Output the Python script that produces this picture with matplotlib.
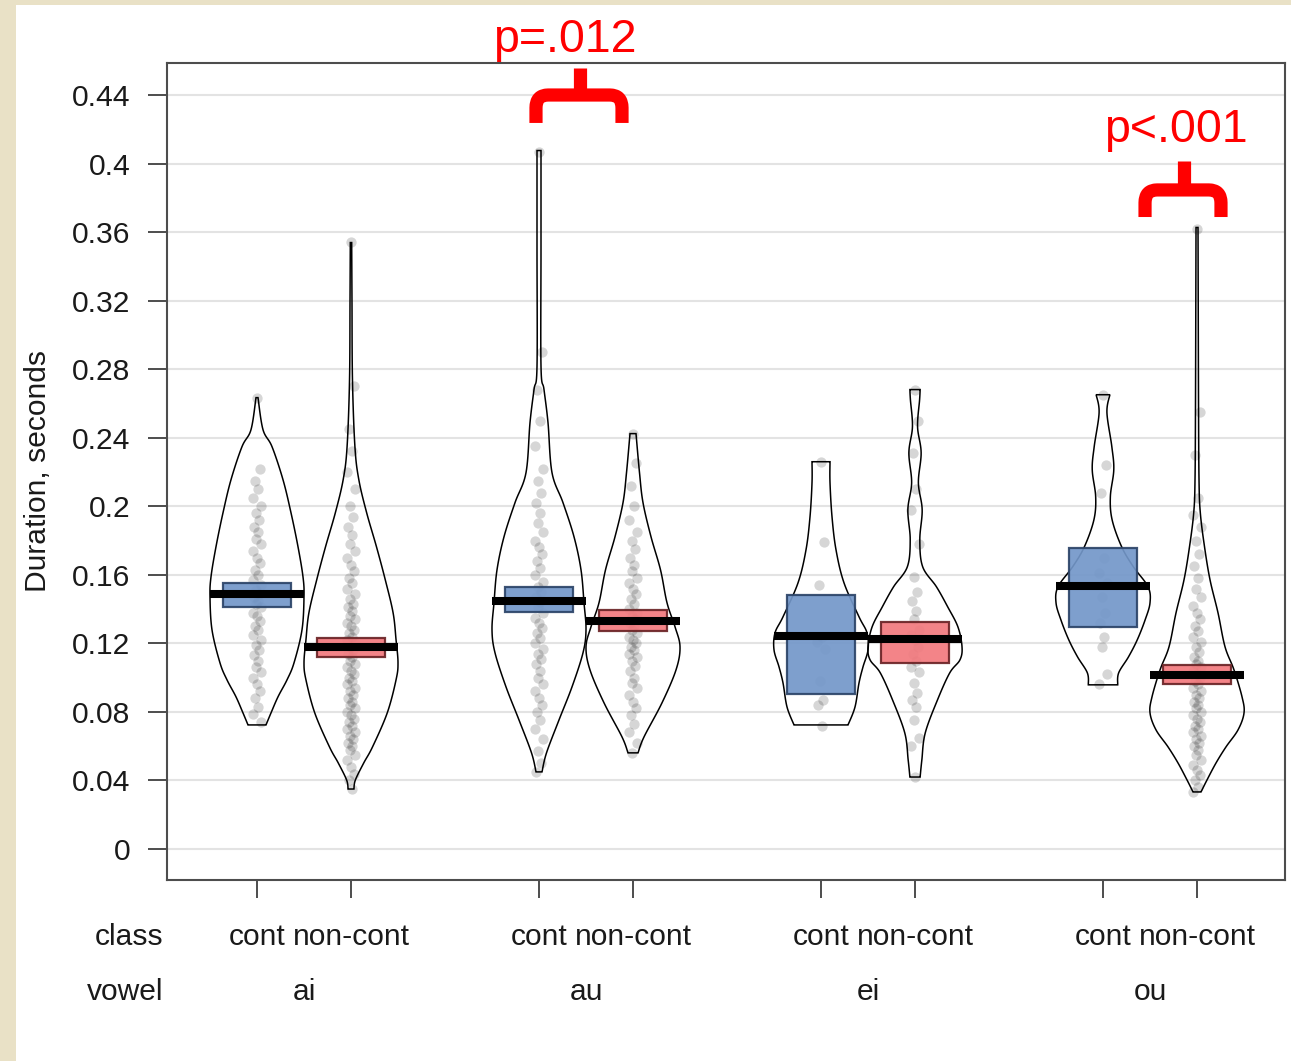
import numpy as np
import matplotlib
matplotlib.use("Agg")
import matplotlib.pyplot as plt
from matplotlib.patches import Rectangle, PathPatch
from matplotlib.path import Path
from matplotlib.transforms import blended_transform_factory

plt.rcParams['font.family'] = ['Liberation Sans', 'DejaVu Sans']

# ---------------- data ----------------
vowels = ['ai', 'au', 'ei', 'ou']
classes = ['cont', 'non-cont']
positions = [1, 2, 4, 5, 7, 8, 10, 11]
yticks = [0, 0.04, 0.08, 0.12, 0.16, 0.2, 0.24, 0.28, 0.32, 0.36, 0.4, 0.44]
ytick_labels = ['0', '0.04', '0.08', '0.12', '0.16', '0.2', '0.24', '0.28',
                '0.32', '0.36', '0.4', '0.44']

means = [0.1489, 0.1180, 0.1448, 0.1331, 0.1244, 0.1226, 0.1536, 0.1016]
hdi_lo = [0.1413, 0.1121, 0.1384, 0.1273, 0.0905, 0.1086, 0.1296, 0.0963]
hdi_hi = [0.1553, 0.1232, 0.1530, 0.1396, 0.1483, 0.1326, 0.1758, 0.1074]

# violin outlines: y values and relative density (top -> bottom)
ai_cont_vy = [0.2634, 0.2447, 0.2348, 0.2155, 0.1962, 0.1764, 0.1588, 0.1472, 0.1279, 0.1086, 0.0987, 0.0888, 0.0794, 0.0724]
ai_cont_vd = [1, 6, 15, 26, 34, 41, 46, 47, 45, 37, 30, 21, 14, 9]
ai_non_vy = [0.3539, 0.3206, 0.2739, 0.2348, 0.2155, 0.1962, 0.1764, 0.1571, 0.1378, 0.1221, 0.1086, 0.0987, 0.0794, 0.0596, 0.0502, 0.0403, 0.0350]
ai_non_vd = [0.7, 1, 1.5, 4, 8, 16, 26, 35, 43, 46, 48, 46, 37, 22, 13, 4.5, 3]
au_cont_vy = [0.4076, 0.3498, 0.2815, 0.2681, 0.2488, 0.2196, 0.2021, 0.1822, 0.1629, 0.1437, 0.1279, 0.1145, 0.0946, 0.0753, 0.0561, 0.0450]
au_cont_vd = [2, 2, 2, 5, 9, 13, 24, 35, 42, 45, 47, 44, 33, 20, 7.5, 3]
au_non_vy = [0.2424, 0.2196, 0.2021, 0.1822, 0.1629, 0.1437, 0.1297, 0.1180, 0.1045, 0.0853, 0.0654, 0.0561]
au_non_vd = [3, 6.5, 10, 18, 27.5, 34, 42, 47, 43, 29, 11, 5]
ei_cont_vy = [0.2260, 0.2137, 0.1939, 0.1746, 0.1553, 0.1355, 0.1261, 0.1162, 0.1063, 0.0969, 0.0829, 0.0724]
ei_cont_vd = [9, 9, 11, 15, 23, 38, 46, 47, 42, 38, 34, 27]
ei_non_vy = [0.2681, 0.2622, 0.2464, 0.2313, 0.2137, 0.1980, 0.1805, 0.1647, 0.1530, 0.1413, 0.1296, 0.1180, 0.1104, 0.1028, 0.0870, 0.0677, 0.0520, 0.0420]
ei_non_vd = [5, 4.5, 2.5, 6, 3.3, 7, 4.7, 7.5, 21, 32, 42, 46, 44, 34, 22, 10, 6.7, 5]
ou_cont_vy = [0.2651, 0.2546, 0.2348, 0.2213, 0.2056, 0.1921, 0.1764, 0.1647, 0.1530, 0.1437, 0.1337, 0.1221, 0.1121, 0.1028, 0.0958]
ou_cont_vd = [7, 4, 9, 11, 7.5, 9.3, 19, 31, 46, 48, 43, 35, 26, 16, 15]
ou_non_vy = [0.3627, 0.2622, 0.2155, 0.1962, 0.1764, 0.1571, 0.1378, 0.1180, 0.1045, 0.0888, 0.0794, 0.0695, 0.0596, 0.0502, 0.0403, 0.0333]
ou_non_vd = [1, 1.5, 2, 3.3, 7.5, 13, 21, 28, 37, 45, 47, 41, 29, 19, 10, 4]

ai_cont_pts = [0.263, 0.222, 0.215, 0.21, 0.205, 0.2, 0.196, 0.192, 0.188, 0.185, 0.181, 0.178, 0.174, 0.17,
               0.167, 0.163, 0.16, 0.157, 0.154, 0.151, 0.149, 0.147, 0.145, 0.143, 0.141, 0.138, 0.136,
               0.133, 0.13, 0.128, 0.125, 0.122, 0.119, 0.116, 0.113, 0.11, 0.106, 0.103, 0.1, 0.096,
               0.092, 0.088, 0.083, 0.079, 0.074]
ai_non_pts = [0.354, 0.27, 0.245, 0.232, 0.22, 0.21, 0.2, 0.194, 0.188, 0.183, 0.178, 0.174, 0.17, 0.166,
              0.162, 0.158, 0.155, 0.152, 0.149, 0.146, 0.143, 0.141, 0.139, 0.136, 0.134, 0.132, 0.13,
              0.128, 0.126, 0.124, 0.122, 0.12, 0.118, 0.116, 0.114, 0.112, 0.11, 0.108, 0.106, 0.104,
              0.102, 0.1, 0.098, 0.096, 0.094, 0.092, 0.09, 0.088, 0.086, 0.084, 0.082, 0.08, 0.078,
              0.076, 0.074, 0.072, 0.07, 0.068, 0.066, 0.064, 0.062, 0.06, 0.058, 0.055, 0.052, 0.048,
              0.044, 0.04, 0.035]
au_cont_pts = [0.407, 0.29, 0.268, 0.25, 0.235, 0.222, 0.215, 0.208, 0.202, 0.196, 0.19, 0.185, 0.18,
               0.176, 0.172, 0.168, 0.164, 0.16, 0.156, 0.153, 0.15, 0.147, 0.144, 0.141, 0.138, 0.135,
               0.132, 0.129, 0.126, 0.123, 0.12, 0.117, 0.114, 0.111, 0.108, 0.104, 0.1, 0.096, 0.092,
               0.088, 0.084, 0.08, 0.075, 0.07, 0.064, 0.057, 0.05, 0.045]
au_non_pts = [0.242, 0.225, 0.212, 0.2, 0.192, 0.185, 0.18, 0.175, 0.17, 0.166, 0.162, 0.158, 0.155,
              0.152, 0.149, 0.146, 0.143, 0.14, 0.138, 0.136, 0.134, 0.132, 0.13, 0.128, 0.126, 0.124,
              0.122, 0.12, 0.118, 0.116, 0.114, 0.112, 0.11, 0.107, 0.104, 0.1, 0.097, 0.094, 0.09,
              0.086, 0.082, 0.078, 0.073, 0.068, 0.062, 0.056]
ei_cont_pts = [0.226, 0.179, 0.154, 0.124, 0.121, 0.117, 0.098, 0.087, 0.084, 0.072]
ei_non_pts = [0.268, 0.25, 0.231, 0.21, 0.198, 0.178, 0.159, 0.15, 0.145, 0.139, 0.134, 0.128, 0.125,
              0.122, 0.118, 0.114, 0.11, 0.106, 0.103, 0.097, 0.091, 0.087, 0.083, 0.075, 0.065, 0.06, 0.042]
ou_cont_pts = [0.265, 0.224, 0.208, 0.17, 0.161, 0.155, 0.147, 0.138, 0.132, 0.124, 0.118, 0.102, 0.096]
ou_non_pts = [0.362, 0.255, 0.23, 0.205, 0.195, 0.188, 0.18, 0.172, 0.165, 0.158, 0.152, 0.147, 0.142,
              0.138, 0.134, 0.13, 0.127, 0.124, 0.121, 0.118, 0.115, 0.112, 0.11, 0.108, 0.106, 0.104,
              0.102, 0.1, 0.098, 0.096, 0.094, 0.092, 0.09, 0.088, 0.086, 0.084, 0.082, 0.08, 0.078,
              0.076, 0.074, 0.072, 0.07, 0.068, 0.066, 0.064, 0.062, 0.06, 0.058, 0.055, 0.052, 0.049,
              0.046, 0.043, 0.04, 0.036, 0.033]

annot_labels = ['p=.012', 'p<.001']
annot_groups = ['au', 'ou']

# ---------------- style ----------------
BLUE = '#7397C9'
BLUE_EDGE = '#2C4468'
RED = '#F27A7E'
RED_EDGE = '#6A2426'
BEIGE = '#E9E1C6'
FS = 21.6

viol_y = [ai_cont_vy, ai_non_vy, au_cont_vy, au_non_vy, ei_cont_vy, ei_non_vy, ou_cont_vy, ou_non_vy]
viol_d = [ai_cont_vd, ai_non_vd, au_cont_vd, au_non_vd, ei_cont_vd, ei_non_vd, ou_cont_vd, ou_non_vd]
pts = [ai_cont_pts, ai_non_pts, au_cont_pts, au_non_pts, ei_cont_pts, ei_non_pts, ou_cont_pts, ou_non_pts]
fills = [BLUE, RED] * 4
edges = [BLUE_EDGE, RED_EDGE] * 4


def catmull(y, w, n=12):
    y = np.asarray(y, float)
    w = np.asarray(w, float)
    P = np.column_stack([y, w])
    P = np.vstack([P[0], P, P[-1]])
    out = []
    for i in range(1, len(P) - 2):
        p0, p1, p2, p3 = P[i - 1], P[i], P[i + 1], P[i + 2]
        for t in np.linspace(0, 1, n, endpoint=False):
            t2, t3 = t * t, t * t * t
            pt = 0.5 * ((2 * p1) + (-p0 + p2) * t + (2 * p0 - 5 * p1 + 4 * p2 - p3) * t2 +
                        (-p0 + 3 * p1 - 3 * p2 + p3) * t3)
            out.append(pt)
    out.append(P[-2])
    out = np.array(out)
    out[:, 1] = np.clip(out[:, 1], 0.3, None)
    return out[:, 0], out[:, 1]


fig = plt.figure(figsize=(12.91, 10.61), dpi=100)
fig.patch.set_facecolor(BEIGE)
fig.patches.append(Rectangle((16 / 1291, 0), 1 - 16 / 1291, 1 - 5 / 1061, transform=fig.transFigure,
                             facecolor='white', edgecolor='none', zorder=-10))

ax = fig.add_axes([167 / 1291, 1 - 880 / 1061, (1285 - 167) / 1291, (880 - 63) / 1061])
ax.set_facecolor('white')
ax.set_xlim(0.0426, 11.936)
ax.set_ylim(-0.01809, 0.45868)

for yt in yticks:
    ax.axhline(yt, color='#E3E3E3', lw=1.5, zorder=0)

jit = [0.0, 0.035, -0.025, 0.015, -0.04, 0.045, -0.01, 0.025, -0.035, 0.01, -0.015, 0.04, -0.045]

for i, pos in enumerate(positions):
    vy, vd = catmull(viol_y[i], viol_d[i])
    hw = vd / max(viol_d[i]) * 0.5
    xs = np.concatenate([pos - hw, (pos + hw)[::-1]])
    ys = np.concatenate([vy, vy[::-1]])
    ax.fill(xs, ys, facecolor='none', edgecolor='black', lw=1.1, zorder=2)

    p = np.asarray(pts[i])
    jx = np.array([jit[k % len(jit)] for k in range(len(p))])
    ax.scatter(pos + jx, p, s=55, color='black', alpha=0.16, linewidths=0, zorder=3)

    ax.add_patch(Rectangle((pos - 0.36, hdi_lo[i]), 0.72, hdi_hi[i] - hdi_lo[i],
                           facecolor=fills[i], edgecolor=edges[i], lw=1.6, alpha=0.92, zorder=4))
    ax.plot([pos - 0.5, pos + 0.5], [means[i], means[i]], color='black', lw=5.8,
            solid_capstyle='butt', zorder=5)

for s in ax.spines.values():
    s.set_color('#4D4D4D')
    s.set_linewidth(1.5)

ax.set_yticks(yticks)
ax.set_yticklabels(ytick_labels)
ax.set_xticks(positions)
ax.set_xticklabels([])
ax.tick_params(axis='y', direction='out', length=13.5, width=1.4, color='#4D4D4D',
               pad=13, labelsize=FS, labelcolor='#1A1A1A')
ax.tick_params(axis='x', direction='out', length=13, width=1.4, color='#4D4D4D')

tr = blended_transform_factory(ax.transData, fig.transFigure)
tr_ax = blended_transform_factory(ax.transAxes, fig.transFigure)
y_class = 1 - 937 / 1061
y_vowel = 1 - 992 / 1061
ax.text(-0.003, y_class, 'class', transform=tr_ax, ha='right', va='center', fontsize=FS, color='#1A1A1A')
ax.text(-0.003, y_vowel, 'vowel', transform=tr_ax, ha='right', va='center', fontsize=FS, color='#1A1A1A')
for i, pos in enumerate(positions):
    ax.text(pos, y_class, classes[i % 2], transform=tr, ha='center', va='center', fontsize=FS,
            color='#1A1A1A')
for j, v in enumerate(vowels):
    ax.text((positions[2 * j] + positions[2 * j + 1]) / 2, y_vowel, v, transform=tr, ha='center',
            va='center', fontsize=FS, color='#1A1A1A')

fig.text(38 / 1291, 1 - 471 / 1061, 'Duration, seconds', rotation=90, ha='center', va='center',
         fontsize=FS, color='#1A1A1A')

# significance brackets
brackets = [dict(xl=3.968, xr=4.883, xs=4.436, ybar=0.44, ybot=0.4237, ytop=0.4558, tx=4.277, ty=0.4651),
            dict(xl=10.447, xr=11.255, xs=10.862, ybar=0.3846, ybot=0.3688, ytop=0.4015, tx=10.777, ty=0.4126)]
rx, ry = 0.13, 0.0075
for b, lab in zip(brackets, annot_labels):
    verts = [(b['xl'], b['ybot']), (b['xl'], b['ybar'] - ry), (b['xl'], b['ybar']), (b['xl'] + rx, b['ybar']),
             (b['xr'] - rx, b['ybar']), (b['xr'], b['ybar']), (b['xr'], b['ybar'] - ry), (b['xr'], b['ybot'])]
    codes = [Path.MOVETO, Path.LINETO, Path.CURVE3, Path.CURVE3, Path.LINETO, Path.CURVE3, Path.CURVE3,
             Path.LINETO]
    ax.add_patch(PathPatch(Path(verts, codes), facecolor='none', edgecolor='#FF0000', lw=9.5,
                           capstyle='butt', joinstyle='round', clip_on=False, zorder=6))
    ax.plot([b['xs'], b['xs']], [b['ybar'], b['ytop']], color='#FF0000', lw=9.5, solid_capstyle='butt',
            clip_on=False, zorder=6)
    ax.text(b['tx'], b['ty'], lab, ha='center', va='baseline', fontsize=33.5, color='#FF0000',
            clip_on=False, zorder=7)

fig.savefig('out.png', dpi=100, facecolor=fig.get_facecolor())
